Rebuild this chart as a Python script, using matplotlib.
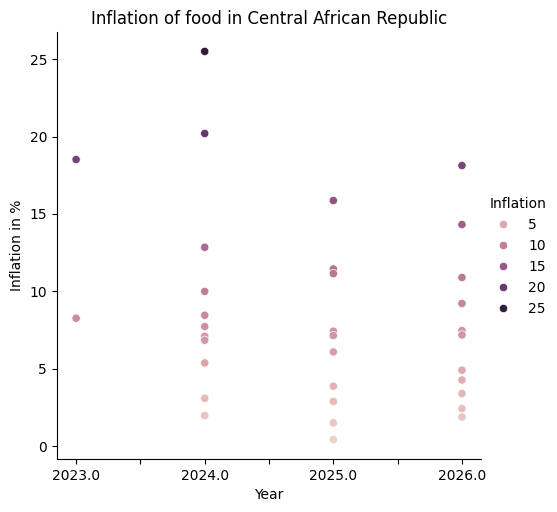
import matplotlib
matplotlib.use("Agg")
import matplotlib.pyplot as plt
import seaborn as sns
import pandas as pd

years_2023 = [18.52, 8.27]
years_2024 = [25.5, 20.2, 12.85, 10.0, 8.46, 7.73, 7.1, 6.85, 5.38, 3.1, 1.98]
years_2025 = [15.87, 11.45, 11.15, 7.43, 7.15, 6.09, 3.88, 2.89, 1.51, 0.43]
years_2026 = [18.13, 14.32, 10.9, 9.22, 7.47, 7.19, 4.91, 4.28, 3.4, 2.43, 1.89]

rows = []
for year, vals in [(2023, years_2023), (2024, years_2024), (2025, years_2025), (2026, years_2026)]:
    for v in vals:
        rows.append({"Year": year, "Inflation": v})
df = pd.DataFrame(rows)

fig = plt.figure(figsize=(5.57, 5.12), dpi=100)
ax = fig.add_axes([0.102, 0.1035, 0.762, 0.834])
sns.scatterplot(data=df, x="Year", y="Inflation", hue="Inflation", ax=ax)
sns.despine(ax=ax)

ticks = [2023.0, 2023.5, 2024.0, 2024.5, 2025.0, 2025.5, 2026.0]
ax.set_xticks(ticks)
ax.set_xticklabels([f"{t:.1f}" if t == int(t) else "" for t in ticks])
ax.set_ylabel("Inflation in %")
ax.set_xlabel("Year")
ax.set_title("Inflation of food in Central African Republic")

sns.move_legend(ax, "center left", bbox_to_anchor=(0.856, 0.499),
                bbox_transform=fig.transFigure, frameon=False)

fig.savefig("out.png", dpi=100)
